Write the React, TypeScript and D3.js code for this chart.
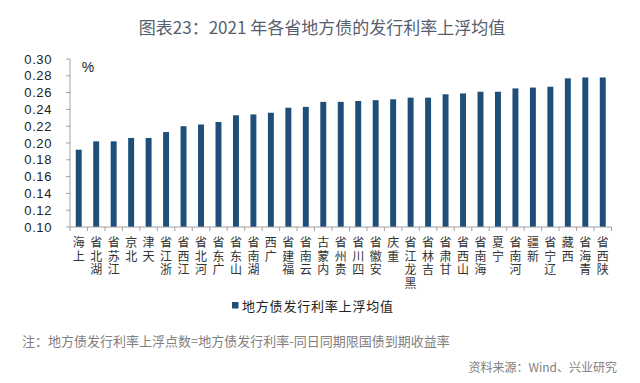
import React from "react";
import * as d3 from "d3";

const provinces = [
  "上海", "湖北省", "江苏省", "北京", "天津", "浙江省", "江西省", "河北省", "广东省", "山东省",
  "湖南省", "广西", "福建省", "云南省", "内蒙古", "贵州省", "四川省", "安徽省", "重庆", "黑龙江省",
  "吉林省", "甘肃省", "山西省", "海南省", "宁夏", "河南省", "新疆", "辽宁省", "西藏", "青海省", "陕西省",
];

const spreadValues = [
  0.192, 0.202, 0.202, 0.206, 0.206, 0.213, 0.220, 0.222, 0.225, 0.233,
  0.234, 0.236, 0.242, 0.243, 0.249, 0.249, 0.250, 0.251, 0.252, 0.254,
  0.254, 0.258, 0.259, 0.261, 0.261, 0.265, 0.266, 0.267, 0.277, 0.278, 0.278,
];

const yTicks = [0.1, 0.12, 0.14, 0.16, 0.18, 0.2, 0.22, 0.24, 0.26, 0.28, 0.3];

const titleText = "图表23：2021 年各省地方债的发行利率上浮均值";
const seriesName = "地方债发行利率上浮均值";
const noteText = "注：地方债发行利率上浮点数=地方债发行利率-同日同期限国债到期收益率";
const sourceText = "资料来源：Wind、兴业研究";

const W = 640;
const H = 383;
const left = 70;
const right = 611.5;
const top = 59;
const bottom = 227;

const cjk = "'Noto Sans CJK SC', 'Noto Sans', sans-serif";

export default function App() {
  const x = d3.scaleBand<string>().domain(provinces).range([left, right]).paddingInner(0.66).paddingOuter(0.33);
  const y = d3.scaleLinear().domain([0.1, 0.3]).range([bottom, top]);
  const step = x.step();
  const axisColor = "#a0a0a0";
  const charStep = 13.5;

  return (
    <svg width={W} height={H} style={{ position: "absolute", left: 0, top: 0, background: "#fff" }}>
      <rect x={0} y={0} width={W} height={H} fill="#fff" />
      <text x={322} y={34} textAnchor="middle" fontFamily={cjk} fontSize={17} fill="#55606f">
        {titleText}
      </text>

      {/* y axis */}
      <line x1={left} x2={left} y1={top} y2={bottom} stroke={axisColor} strokeWidth={1} />
      {yTicks.map((t) => (
        <g key={t}>
          <line x1={left - 4} x2={left} y1={y(t)} y2={y(t)} stroke={axisColor} strokeWidth={1} />
          <text
            x={52}
            y={y(t)}
            dy="0.35em"
            textAnchor="end"
            fontFamily="'Liberation Sans', Arial, sans-serif"
            fontSize={13}
            letterSpacing={0.6}
            fill="#222"
          >
            {d3.format(".2f")(t)}
          </text>
        </g>
      ))}
      <text x={88} y={72} textAnchor="middle" fontFamily="'Liberation Sans', Arial, sans-serif" fontSize={14} fill="#222">
        %
      </text>

      {/* bars */}
      {provinces.map((p, i) => (
        <rect
          key={p}
          x={x(p)!}
          width={x.bandwidth()}
          y={y(spreadValues[i])}
          height={bottom - y(spreadValues[i])}
          fill="#1f4e79"
        />
      ))}

      {/* x axis */}
      <line x1={left} x2={right} y1={bottom} y2={bottom} stroke={axisColor} strokeWidth={1} />
      {d3.range(provinces.length + 1).map((i) => (
        <line
          key={i}
          x1={left + i * step}
          x2={left + i * step}
          y1={bottom}
          y2={bottom + 4}
          stroke={axisColor}
          strokeWidth={1}
        />
      ))}
      {provinces.map((p) => {
        const cx = x(p)! + x.bandwidth() / 2;
        const chars = Array.from(p).reverse();
        return (
          <g key={p}>
            {chars.map((c, j) => (
              <text
                key={j}
                x={cx}
                y={243 + j * charStep}
                dy="0.35em"
                textAnchor="middle"
                fontFamily={cjk}
                fontSize={12}
                fill="#333"
              >
                {c}
              </text>
            ))}
          </g>
        );
      })}

      {/* legend */}
      <rect x={232} y={302} width={6.5} height={6.5} fill="#1f4e79" />
      <text x={242} y={306} dy="0.35em" fontFamily={cjk} fontSize={13} letterSpacing={0.8} fill="#222">
        {seriesName}
      </text>

      {/* notes */}
      <text x={22} y={341} dy="0.35em" fontFamily={cjk} fontSize={13} fill="#808080">
        {noteText}
      </text>
      <text x={617} y={368} dy="0.35em" textAnchor="end" fontFamily={cjk} fontSize={12} fill="#808080">
        {sourceText}
      </text>
    </svg>
  );
}
